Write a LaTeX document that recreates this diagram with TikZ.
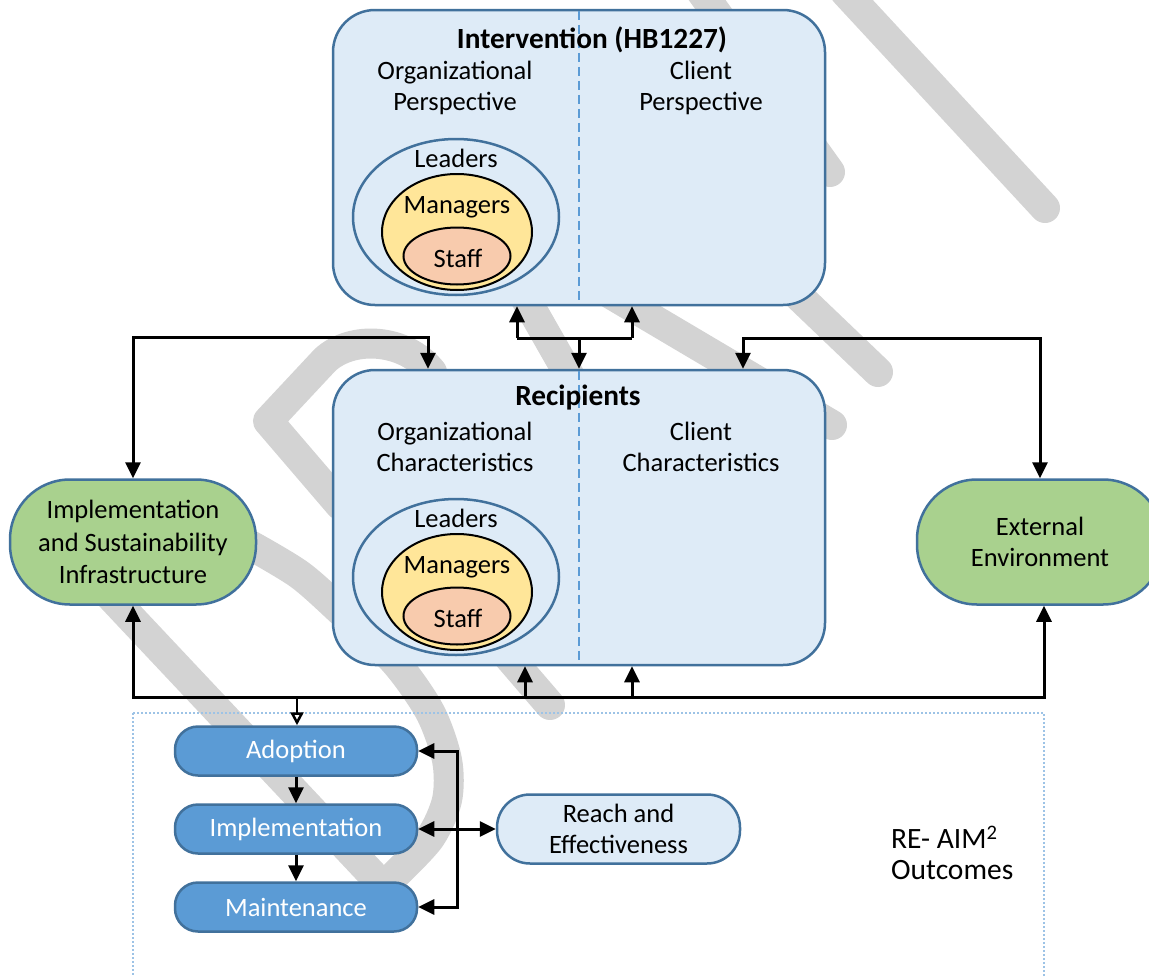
\documentclass[tikz,border=0pt]{standalone}
\usepackage{fontspec}
\setmainfont{Carlito}
\usetikzlibrary{arrows.meta,calc,shapes.geometric}
\definecolor{boxfill}{HTML}{DEEBF7}
\definecolor{boxline}{HTML}{41719C}
\definecolor{dashblue}{HTML}{5B9BD5}
\definecolor{greenfill}{HTML}{A9D18E}
\definecolor{yellowfill}{HTML}{FFE699}
\definecolor{peachfill}{HTML}{F8CBAD}
\definecolor{bluefill}{HTML}{5B9BD5}
\definecolor{dotblue}{HTML}{9DC3E6}
\definecolor{wmgray}{HTML}{D3D3D3}
\begin{document}
\begin{tikzpicture}[x=1pt,y=-1pt,
  txt/.style={inner sep=0pt, align=center, font=\fontsize{26.5}{31.5}\selectfont},
  boldtxt/.style={inner sep=0pt, align=center, font=\fontsize{29.3}{33}\selectfont\bfseries},
  bigbox/.style={draw=boxline, line width=2.5pt, fill=boxfill, rounded corners=42pt,
    minimum width=492pt, minimum height=295pt, inner sep=0pt},
  leadell/.style={ellipse, draw=boxline, line width=2.5pt, fill=boxfill,
    minimum width=206pt, minimum height=156pt, inner sep=0pt},
  manell/.style={ellipse, draw=black, line width=2pt, fill=yellowfill,
    minimum width=150pt, minimum height=116pt, inner sep=0pt},
  staffell/.style={ellipse, draw=black, line width=2pt, fill=peachfill,
    minimum width=107pt, minimum height=57pt, inner sep=0pt},
  greenbox/.style={txt, draw=boxline, line width=2.5pt, fill=greenfill, rounded corners=60pt,
    minimum width=246pt, minimum height=125pt},
  bluebox/.style={txt, draw=boxline, line width=2.5pt, fill=bluefill, text=white, rounded corners=23pt,
    minimum width=242pt, minimum height=49pt},
  lightbox/.style={txt, draw=boxline, line width=2.5pt, fill=boxfill, rounded corners=33pt,
    minimum width=243pt, minimum height=69pt},
  dashline/.style={draw=dashblue, line width=2pt, dash pattern=on 9pt off 5pt},
  conn/.style={draw=black, line width=3pt},
  arr/.style={conn, -{Triangle[length=16pt,width=15pt]}},
  arrtwo/.style={conn, {Triangle[length=16pt,width=15pt]}-{Triangle[length=16pt,width=15pt]}},
  openarr/.style={conn, line width=2.5pt, -{Triangle[open,length=13pt,width=13pt]}},
  wm/.style={draw=wmgray, line width=30pt, line cap=round, line join=round}
]
\useasboundingbox (0,0) rectangle (1149,977);
\fill[white] (0,0) rectangle (1149,977);

% watermark strokes
\draw[wm] (845,-8) -- (1045,208);
\draw[wm] (700,-10) -- (830,172);
\draw[wm] (740,240) -- (878,372);
\draw[wm] (515,280) -- (572,380);
\draw[wm] (560,264) -- (832,425);
\draw[wm] (340,505) -- (268,421) -- (325,360) .. controls (352,335) and (405,338) .. (432,372);
\draw[wm] plot[smooth] coordinates {(250,545) (300,575) (345,615) (395,662) (430,712) (447,760) (447,800) (430,838) (395,875)};
\draw[wm] (100,585) -- (385,888);
\draw[wm] (470,612) -- (550,705);

% dotted outcome frame
\draw[draw=dotblue, line width=2pt, dash pattern=on 2pt off 2pt] (133,713) rectangle (1044,995);

% Intervention box
\node[bigbox] (int) at (579,157.5) {};
\draw[dashline] ([yshift=-2pt]int.north) -- ([yshift=2pt]int.south);
\node[boldtxt] (intt) at (592,40) {Intervention (HB1227)};
\node[txt] (intorg) at (455,88) {Organizational\\Perspective};
\node[txt] (intcli) at (701,88) {Client\\Perspective};
\node[leadell] (intlead) at (456,217) {};
\node[manell] (intman) at (457,232) {};
\node[staffell] (intstaff) at (457,256) {};
\node[txt] (intleadt) at (456,158) {Leaders};
\node[txt] (intmant) at (457,207) {Managers};
\node[txt] (intstafft) at (458,258) {Staff};

% Recipients box
\node[bigbox] (rec) at (579,517.5) {};
\draw[dashline] ([yshift=-2pt]rec.north) -- ([yshift=2pt]rec.south);
\node[boldtxt] (rect) at (578,398) {Recipients};
\node[txt] (recorg) at (455,447) {Organizational\\Characteristics};
\node[txt] (reccli) at (701,447) {Client\\Characteristics};
\node[leadell] (reclead) at (456,577) {};
\node[manell] (recman) at (457,592) {};
\node[staffell] (recstaff) at (457,616) {};
\node[txt] (recleadt) at (456,518) {Leaders};
\node[txt] (recmant) at (457,567) {Managers};
\node[txt] (recstafft) at (458,618) {Staff};

% side nodes
\node[greenbox, font=\fontsize{26.5}{32.5}\selectfont] (isi) at (133,542) {Implementation\\and Sustainability\\Infrastructure};
\node[greenbox] (ext) at (1040,542) {External\\Environment};

% RE-AIM nodes
\node[bluebox] (ado) at (296,751) {\raisebox{-2pt}{Adoption}};
\node[bluebox] (imp) at (296,829) {\raisebox{-2pt}{Implementation}};
\node[bluebox] (mai) at (296,907) {\raisebox{-2pt}{Maintenance}};
\node[lightbox] (reach) at (618.5,829) {Reach and\\Effectiveness};
\node[txt, anchor=west, align=left, font=\fontsize{29.5}{31}\selectfont] (reaim) at (891,853) {RE- AIM\textsuperscript{2}\\Outcomes};

% connectors between Intervention and Recipients
\coordinate (jL) at (517,338);
\coordinate (jR) at (632,338);
\draw[conn] (jL) -- (jR);
\draw[arr] (jL) -- (jL |- int.south);
\draw[arr] (jR) -- (jR |- int.south);
\draw[arr] (rec.north |- jL) -- (rec.north);

% left loop
\coordinate (lp) at (428,337);
\draw[arrtwo] (isi.north) |- (lp) -- (lp |- rec.north);

% right loop
\coordinate (rp) at (743,338);
\draw[arrtwo] (rp |- rec.north) -- (rp) -| (ext.north);

% bottom line
\coordinate (bY) at (0,697);
\draw[arrtwo] (isi.south) |- ([xshift=4pt]ext.south |- bY) -- ([xshift=4pt]ext.south);
\coordinate (u1) at (525,697);
\coordinate (u2) at (632,697);
\draw[arr] (u1) -- (u1 |- rec.south);
\draw[arr] (u2) -- (u2 |- rec.south);
\draw[openarr] ([xshift=1pt]ado.north |- bY) -- ([xshift=1pt]ado.north);

% RE-AIM chain
\draw[arr] (ado.south) -- (imp.north);
\draw[arr] (imp.south) -- (mai.north);
\coordinate (bx) at (457,0);
\draw[arrtwo] (ado.east) -| (bx |- mai.east) -- (mai.east);
\draw[arrtwo] (imp.east) -- (reach.west);
\end{tikzpicture}
\end{document}
